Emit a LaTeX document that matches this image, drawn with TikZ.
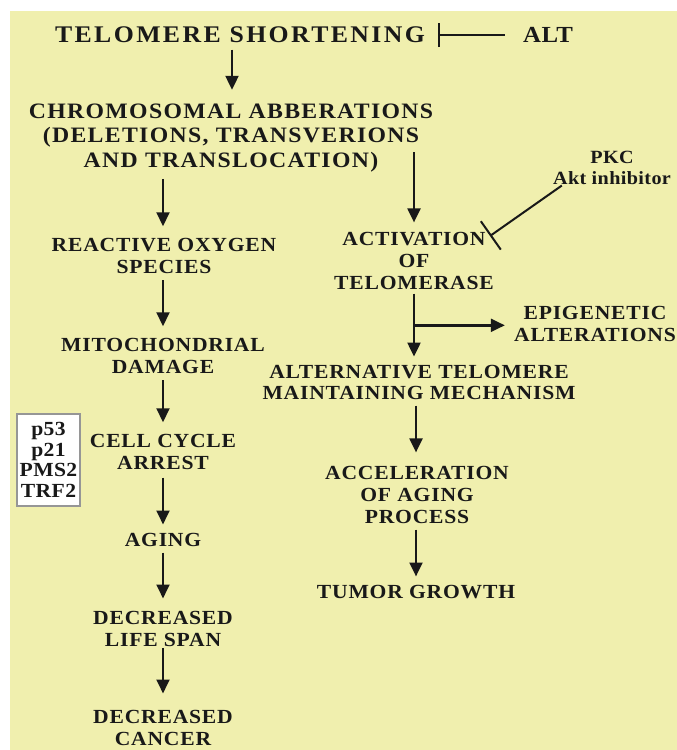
\documentclass[tikz,border=0pt]{standalone}
\usepackage{fontspec}
\setmainfont{Liberation Serif}
\newfontfamily\titlefont[FakeStretch=1.08,LetterSpace=10]{Liberation Serif}
\newfontfamily\chromfont[FakeStretch=1.08,LetterSpace=6]{Liberation Serif}
\newfontfamily\stagefont[FakeStretch=1.08,LetterSpace=4]{Liberation Serif}
\newfontfamily\smallfont[FakeStretch=1.08,LetterSpace=2]{Liberation Serif}
\usetikzlibrary{arrows.meta}
\definecolor{bgyellow}{RGB}{240,239,174}
\definecolor{boxgray}{RGB}{150,150,150}
\definecolor{inkgray}{RGB}{25,25,25}
\begin{document}
\begin{tikzpicture}[x=0.75pt,y=0.75pt,yscale=-1,xscale=1,
  arr/.style={line width=2.1pt,draw=inkgray,-{Triangle[width=9.5pt,length=10.5pt]},shorten <=4pt,shorten >=8pt},
  inh/.style={line width=1.5pt,draw=inkgray,-{Bar[width=18pt,line width=1.5pt]}},
  stage/.style={inner sep=0.75pt,align=center,text=inkgray,font=\stagefont\bfseries\fontsize{15}{16.5}\selectfont}]
\useasboundingbox (0,0) rectangle (677,750);
%Shape: Rectangle [id:background]
\fill [white] (0,0) rectangle (677,750);
\fill [bgyellow] (10,11) rectangle (677,750);

% Text Node
\draw (240,35) node [inner sep=0.75pt,text=inkgray,font=\titlefont\bfseries\fontsize{17.9}{21}\selectfont] (title) {TELOMERE SHORTENING};
% Text Node
\draw (548,35) node [inner sep=0.75pt,text=inkgray,font=\smallfont\bfseries\fontsize{17.25}{20}\selectfont] (alt) {ALT};
% Text Node
\draw (231,138) node [inner sep=0.75pt,align=center,text=inkgray,font=\chromfont\bfseries\fontsize{16.5}{18.4}\selectfont] (chrom) {CHROMOSOMAL ABBERATIONS\\(DELETIONS, TRANSVERIONS\\AND TRANSLOCATION)};
% Text Node
\draw (612,167.5) node [inner sep=0.75pt,align=center,text=inkgray,font=\smallfont\bfseries\fontsize{14}{15.75}\selectfont] (pkc) {PKC\\Akt inhibitor};

% Text Node
\draw (164,256) node [stage] (ros) {REACTIVE OXYGEN\\SPECIES};
% Text Node
\draw (163,356) node [stage] (mito) {MITOCHONDRIAL\\DAMAGE};
% Text Node
\draw (163,452) node [stage] (cell) {CELL CYCLE\\ARREST};
% Text Node
\draw (163,540) node [stage] (aging) {AGING};
% Text Node
\draw (163,629) node [stage] (life) {DECREASED\\LIFE SPAN};
% Text Node
\draw (163,728) node [stage] (cancer) {DECREASED\\CANCER};
%Shape: Rectangle [id:genes]
\draw (48.5,460) node [draw=boxgray,fill=white,line width=0.8pt,minimum width=47.25pt,minimum height=69pt,inner sep=1pt,align=center,text=inkgray,font=\smallfont\bfseries\fontsize{15}{15.5}\selectfont] (genes) {p53\\p21\\PMS2\\TRF2};

% Text Node
\draw (414,261) node [stage] (act) {ACTIVATION\\OF\\TELOMERASE};
% Text Node
\draw (595,323.5) node [stage] (epi) {EPIGENETIC\\ALTERATIONS};
% Text Node
\draw (419,382.5) node [stage,font=\stagefont\bfseries\fontsize{15}{15.75}\selectfont] (altm) {ALTERNATIVE TELOMERE\\MAINTAINING MECHANISM};
% Text Node
\draw (417,495) node [stage] (acc) {ACCELERATION\\OF AGING\\PROCESS};
% Text Node
\draw (416,592) node [stage] (tumor) {TUMOR GROWTH};

%Straight Lines [id:left column]
\draw [arr,shorten >=9.5pt] ([xshift=-6pt]title.south) -- ([xshift=-6pt]title.south |- chrom.north);
\draw [arr] (chrom.south -| mito.north) -- (mito.north |- ros.north);
\draw [arr] (ros.south -| mito.north) -- (mito.north);
\draw [arr] (mito.south) -- (cell.north);
\draw [arr,shorten <=4.9pt,shorten >=5.6pt] (cell.south) -- (aging.north -| cell.south);
\draw [arr,shorten <=3.4pt,shorten >=8.6pt] (aging.south -| life.north) -- (life.north);
\draw [arr,shorten <=0pt,shorten >=11.6pt] (life.south) -- (cancer.north);

%Straight Lines [id:right column]
\coordinate (c1) at (414,152);
\draw [arr,shorten <=0pt,shorten >=6.4pt] (c1) -- (c1 |- act.north);
\draw [arr,shorten <=2pt,shorten >=5.5pt] (act.south) -- (act.south |- altm.north);
\path (act.south) -- (act.south |- altm.north) coordinate [pos=0.47] (brc);
\draw [arr,shorten <=0pt,shorten >=6pt] (brc) -- (brc -| epi.west);
\draw [arr,shorten <=3.4pt,shorten >=9.4pt] (altm.south -| tumor.north) -- (tumor.north |- acc.north);
\draw [arr,shorten <=3.4pt,shorten >=5.6pt] (acc.south -| tumor.north) -- (tumor.north);

%Straight Lines [id:inhibitions]
\draw [inh,shorten <=12.75pt,shorten >=8.5pt] (alt.west) -- (title.east);
\coordinate (actbar) at (490,236);
\draw [inh,-{Bar[width=26pt,line width=1.5pt]}] ([xshift=7.5pt]pkc.south west) -- (actbar);

\end{tikzpicture}
\end{document}
